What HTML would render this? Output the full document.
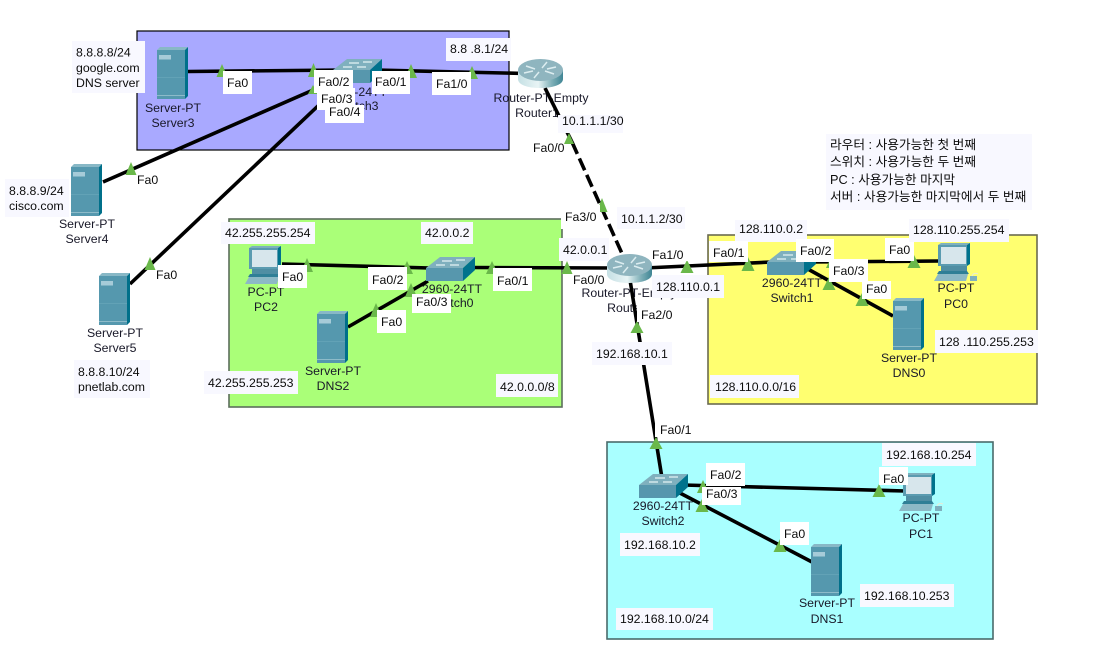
<!DOCTYPE html>
<html><head><meta charset="utf-8"><title>Network topology</title>
<style>
html,body{margin:0;padding:0;background:#fff;width:1111px;height:670px;overflow:hidden}
svg{display:block}
text{font-family:"Liberation Sans","Noto Sans CJK KR",sans-serif;font-size:12.3px;fill:#0c0c0c}
.c{text-anchor:middle;fill:#181828}
.k{font-family:"Liberation Sans","Noto Sans CJK KR","NanumGothic",sans-serif;font-size:12.7px}
.w{fill:#fff}.n{fill:#f8f8ff}
.l{stroke:#000;stroke-width:3.6;fill:none}
.t{fill:#6ab84a}
</style></head><body>
<svg width="1111" height="670" viewBox="0 0 1111 670" xmlns="http://www.w3.org/2000/svg">
<defs>
<linearGradient id="rg" x1="0" x2="1" y1="0" y2="0"><stop offset="0" stop-color="#c5e0e4"/><stop offset=".45" stop-color="#e8f4f5"/><stop offset=".75" stop-color="#7fb0b8"/><stop offset="1" stop-color="#3f8594"/></linearGradient>
<g id="srv">
<polygon points="0,3 3,0 31,0 28,3" fill="#88b8c6"/>
<rect x="0" y="3" width="28" height="49" fill="#5598ae"/>
<polygon points="28,3 31,0 31,49 28,52" fill="#00708a"/>
<rect x="2" y="8" width="12" height="4.500" fill="#a6cbd8"/>
<rect x="0" y="48" width="28" height="1" fill="#8dbbc9"/>
<rect x="0" y="30" width="28" height="1" fill="#62a2b6"/>
</g>
<g id="sw">
<polygon points="0,11 14,0 49,0 37,11" fill="#7fb0be"/>
<rect x="0" y="11" width="37" height="13" fill="#5797ad"/>
<polygon points="37,11 49,0 49,13 37,24" fill="#00728c"/>
<path d="M16 4h10M30 3h9M10 8h9M24 8h9" stroke="#e4f2f5" stroke-width="1.200" fill="none"/>
</g>
<g id="rt">
<path d="M0 11V20C0 26 10 29 22 29S45 26 45 20V11Z" fill="url(#rg)"/>
<ellipse cx="22.500" cy="11" rx="22.500" ry="11" fill="#8fb5bf"/>
<path d="M8 7l9 3M36 15l-9-3M29 3l-5 6M16 19l5-6M6 14l9-2M38 8l-9 2" stroke="#dcedf0" stroke-width="1.500" fill="none"/>
</g>
<g id="pc">
<polygon points="4,1 7,-1 36,-1 33,1" fill="#7fb0be"/>
<rect x="4" y="1" width="29" height="21" fill="#5a9bb0"/>
<polygon points="33,1 36,-1 36,20 33,22" fill="#00728c"/>
<rect x="7" y="3" width="25" height="17" fill="#d7e6ec"/>
<rect x="7" y="22" width="26" height="5" fill="#4f8ea3"/>
<polygon points="5,27 33,27 35,30 3,30" fill="#2f7f96"/>
<polygon points="4,30 34,30 32,37 0,37" fill="#8db9c6"/>
<rect x="36" y="32" width="7" height="5" fill="#7fb0be"/>
<path d="M38 32c1-3 4-3 6-2" stroke="#e6ecd8" fill="none"/>
</g>
</defs>

<!-- areas -->
<rect x="137" y="31" width="372" height="119" fill="#a9a9ff" stroke="#000" stroke-width="1.200"/>
<rect x="229" y="219" width="333" height="188" fill="#aaff78" stroke="#5c6e5c" stroke-width="1.600"/>
<rect x="708" y="235" width="329" height="169" fill="#ffff70" stroke="#6a6a50" stroke-width="1.600"/>
<rect x="607" y="442" width="386" height="197" fill="#a9ffff" stroke="#4a6a6a" stroke-width="1.600"/>

<!-- device labels -->
<text class="c" x="173" y="112">Server-PT</text><text class="c" x="173" y="127">Server3</text>
<text class="c" x="87" y="228">Server-PT</text><text class="c" x="87" y="243">Server4</text>
<text class="c" x="115" y="337">Server-PT</text><text class="c" x="115" y="352">Server5</text>
<text class="c" x="357" y="96">2960-24TT</text><text class="c" x="357" y="110">Switch3</text>
<text class="c" x="541" y="102">Router-PT-Empty</text><text class="c" x="537" y="117">Router1</text>
<text class="c" x="266" y="296">PC-PT</text><text class="c" x="266" y="311">PC2</text>
<text class="c" x="333" y="375">Server-PT</text><text class="c" x="333" y="390">DNS2</text>
<text class="c" x="452" y="293">2960-24TT</text><text class="c" x="452" y="307">Switch0</text>
<text class="c" x="629" y="297">Router-PT-Empty</text><text class="c" x="629" y="312">Router0</text>
<text class="c" x="792" y="287">2960-24TT</text><text class="c" x="792" y="302">Switch1</text>
<text class="c" x="956" y="292">PC-PT</text><text class="c" x="956" y="308">PC0</text>
<text class="c" x="909" y="362">Server-PT</text><text class="c" x="909" y="377">DNS0</text>
<text class="c" x="663" y="510">2960-24TT</text><text class="c" x="663" y="525">Switch2</text>
<text class="c" x="921" y="522">PC-PT</text><text class="c" x="921" y="538">PC1</text>
<text class="c" x="827" y="607">Server-PT</text><text class="c" x="827" y="623">DNS1</text>

<!-- links -->
<path class="l" d="M188 71.500L345 70"/>
<path class="l" d="M375 70L525 73.500"/>
<path class="l" d="M103 182L320 87"/>
<path class="l" d="M130 284L320 104"/>
<path class="l" d="M282 264L430 268"/>
<path class="l" d="M348 327L428 281"/>
<path class="l" d="M470 267.500L615 268"/>
<path class="l" d="M645 268L772 262"/>
<path class="l" d="M810 262L940 261"/>
<path class="l" d="M806 268L893 316"/>
<path class="l" d="M630 280L662 478"/>
<path class="l" d="M683 485L905 491"/>
<path class="l" d="M678 492L812 562"/>
<path class="l" d="M545 88L572 142"/>
<path class="l" d="M572 142L624 258" stroke-dasharray="13 5"/>

<!-- devices -->
<use href="#srv" x="157" y="47"/>
<use href="#srv" x="71" y="164"/>
<use href="#srv" x="99" y="273"/>
<use href="#srv" x="317" y="311"/>
<use href="#srv" x="893" y="298"/>
<use href="#srv" x="811" y="544"/>
<use href="#sw" x="333" y="59"/>
<use href="#sw" x="426" y="257"/>
<use href="#sw" x="767" y="251"/>
<use href="#sw" x="639" y="474"/>
<use href="#rt" x="518" y="59"/>
<use href="#rt" x="607" y="254"/>
<use href="#pc" x="245" y="247"/>
<use href="#pc" x="934" y="244"/>
<use href="#pc" x="899" y="474"/>

<!-- link lights -->
<g class="t">
<polygon points="222,64 216.500,77 227.500,77"/>
<polygon points="313.500,63 308,77 319,77"/>
<polygon points="313,85 308,94 318,94"/>
<polygon points="411,64 405,78 417,78"/>
<polygon points="472,66 466,79 478,79"/>
<polygon points="569,133 564,144 574,144"/>
<polygon points="602,198 596.500,212 607.500,212"/>
<polygon points="131,162 125.500,175 136.500,175"/>
<polygon points="150,257 144.500,270 155.500,270"/>
<polygon points="307,258 301,272 313,272"/>
<polygon points="407,261 401,274 413,274"/>
<polygon points="492,261 486,274 498,274"/>
<polygon points="567,261 561.500,274 572.500,274"/>
<polygon points="411,283 405,297 417,297"/>
<polygon points="376,303 370,317 382,317"/>
<polygon points="687,260 680.500,273 693.500,273"/>
<polygon points="748,257 741.500,271 754.500,271"/>
<polygon points="637,321 630.500,333 643.500,333"/>
<polygon points="656,437 649.500,449 662.500,449"/>
<polygon points="829,277 822.500,290 835.500,290"/>
<polygon points="832,255 826,268 838,268"/>
<polygon points="914,255 907.500,268 920.500,268"/>
<polygon points="862,293 855.500,306 868.500,306"/>
<polygon points="703,480 697,493 709,493"/>
<polygon points="702,499 695.500,512 708.500,512"/>
<polygon points="879,484 872.500,497 885.500,497"/>
<polygon points="780,539 773.500,552 786.500,552"/>
</g>

<!-- port labels and notes -->
<rect class="n" x="72" y="41" width="73" height="52"/>
<text x="76" y="56.500">8.8.8.8/24</text><text x="76" y="72">google.com</text><text x="76" y="87">DNS server</text>
<rect class="w" x="223" y="71" width="29" height="23"/><text x="227" y="87">Fa0</text>
<rect class="w" x="317" y="88" width="38" height="22"/><text x="321" y="103">Fa0/3</text>
<rect class="w" x="325" y="105" width="39" height="18"/><text x="329" y="116">Fa0/4</text>
<rect class="w" x="314" y="70" width="39" height="23"/><text x="318" y="86">Fa0/2</text>
<rect class="w" x="372" y="71" width="38" height="23"/><text x="375" y="86">Fa0/1</text>
<rect class="w" x="432" y="72" width="39" height="23"/><text x="436" y="88">Fa1/0</text>
<rect class="n" x="446" y="38" width="65" height="23"/><text x="450" y="53">8.8 .8.1/24</text>
<rect class="n" x="558" y="115" width="65" height="18"/><text x="562" y="125">10.1.1.1/30</text>
<text x="533" y="152">Fa0/0</text>
<rect class="w" x="561" y="205" width="39" height="24"/><text x="565" y="221">Fa3/0</text>
<rect class="n" x="617" y="207" width="68" height="22"/><text x="621" y="223">10.1.1.2/30</text>
<rect class="n" x="826" y="134" width="206" height="76"/>
<text class="k" x="830" y="149">라우터 : 사용가능한 첫 번째</text>
<text class="k" x="830" y="166">스위치 : 사용가능한 두 번째</text>
<text class="k" x="830" y="184">PC : 사용가능한 마지막</text>
<text class="k" x="830" y="201">서버 : 사용가능한 마지막에서 두 번째</text>
<rect class="n" x="5" y="179" width="64" height="38"/>
<text x="9" y="195">8.8.8.9/24</text><text x="9" y="210">cisco.com</text>
<text x="137" y="184">Fa0</text>
<text x="156" y="279">Fa0</text>
<rect class="n" x="74" y="360" width="76" height="38"/>
<text x="78" y="376">8.8.8.10/24</text><text x="78" y="391">pnetlab.com</text>

<rect class="n" x="221" y="222" width="94" height="22"/><text x="225" y="237">42.255.255.254</text>
<rect class="n" x="421" y="222" width="52" height="22"/><text x="425" y="237">42.0.0.2</text>
<rect class="w" x="278" y="265" width="29" height="23"/><text x="282" y="281">Fa0</text>
<rect class="w" x="368" y="267" width="39" height="23"/><text x="372" y="284">Fa0/2</text>
<rect class="w" x="493" y="268" width="39" height="23"/><text x="497" y="285">Fa0/1</text>
<rect class="w" x="412" y="294" width="39" height="19"/><text x="416" y="306">Fa0/3</text>
<rect class="w" x="377" y="310" width="29" height="23"/><text x="381" y="326">Fa0</text>
<rect class="n" x="204" y="371" width="94" height="23"/><text x="208" y="387">42.255.255.253</text>
<rect class="n" x="496" y="374" width="62" height="23"/><text x="500" y="391">42.0.0.0/8</text>

<rect class="n" x="559" y="238" width="50" height="23"/><text x="563" y="254">42.0.0.1</text>
<rect class="w" x="569" y="274" width="38" height="14"/><text x="573" y="284">Fa0/0</text>
<rect class="w" x="650" y="248" width="38" height="13"/><text x="652" y="259">Fa1/0</text>
<rect class="n" x="652" y="275" width="72" height="23"/><text x="656" y="291">128.110.0.1</text>
<rect class="w" x="637" y="300" width="38" height="22"/><text x="641" y="319">Fa2/0</text>
<rect class="n" x="592" y="342" width="80" height="23"/><text x="596" y="358">192.168.10.1</text>

<rect class="n" x="735" y="220" width="72" height="22"/><text x="739" y="233">128.110.0.2</text>
<rect class="w" x="709" y="241" width="39" height="21"/><text x="713" y="257">Fa0/1</text>
<rect class="w" x="796" y="239" width="38" height="23"/><text x="800" y="255">Fa0/2</text>
<rect class="w" x="829" y="259" width="39" height="23"/><text x="833" y="275">Fa0/3</text>
<rect class="w" x="862" y="281" width="29" height="18"/><text x="866" y="293">Fa0</text>
<rect class="w" x="885" y="238" width="29" height="23"/><text x="889" y="254">Fa0</text>
<rect class="n" x="909" y="219" width="100" height="23"/><text x="913" y="234">128.110.255.254</text>
<rect class="n" x="935" y="330" width="103" height="23"/><text x="939" y="346">128 .110.255.253</text>
<rect class="n" x="710" y="375" width="89" height="23"/><text x="715" y="391">128.110.0.0/16</text>

<rect class="w" x="655" y="420" width="40" height="17"/><text x="660" y="434">Fa0/1</text>
<rect class="w" x="706" y="463" width="39" height="23"/><text x="710" y="479">Fa0/2</text>
<rect class="w" x="702" y="487" width="39" height="18"/><text x="706" y="498">Fa0/3</text>
<rect class="w" x="879" y="467" width="29" height="18"/><text x="883" y="483">Fa0</text>
<rect class="n" x="882" y="443" width="94" height="23"/><text x="886" y="459">192.168.10.254</text>
<rect class="n" x="620" y="533" width="80" height="23"/><text x="624" y="549">192.168.10.2</text>
<rect class="w" x="780" y="522" width="29" height="23"/><text x="784" y="538">Fa0</text>
<rect class="n" x="860" y="584" width="94" height="23"/><text x="864" y="600">192.168.10.253</text>
<rect class="n" x="616" y="608" width="97" height="22"/><text x="620" y="623">192.168.10.0/24</text>
</svg>
</body></html>
